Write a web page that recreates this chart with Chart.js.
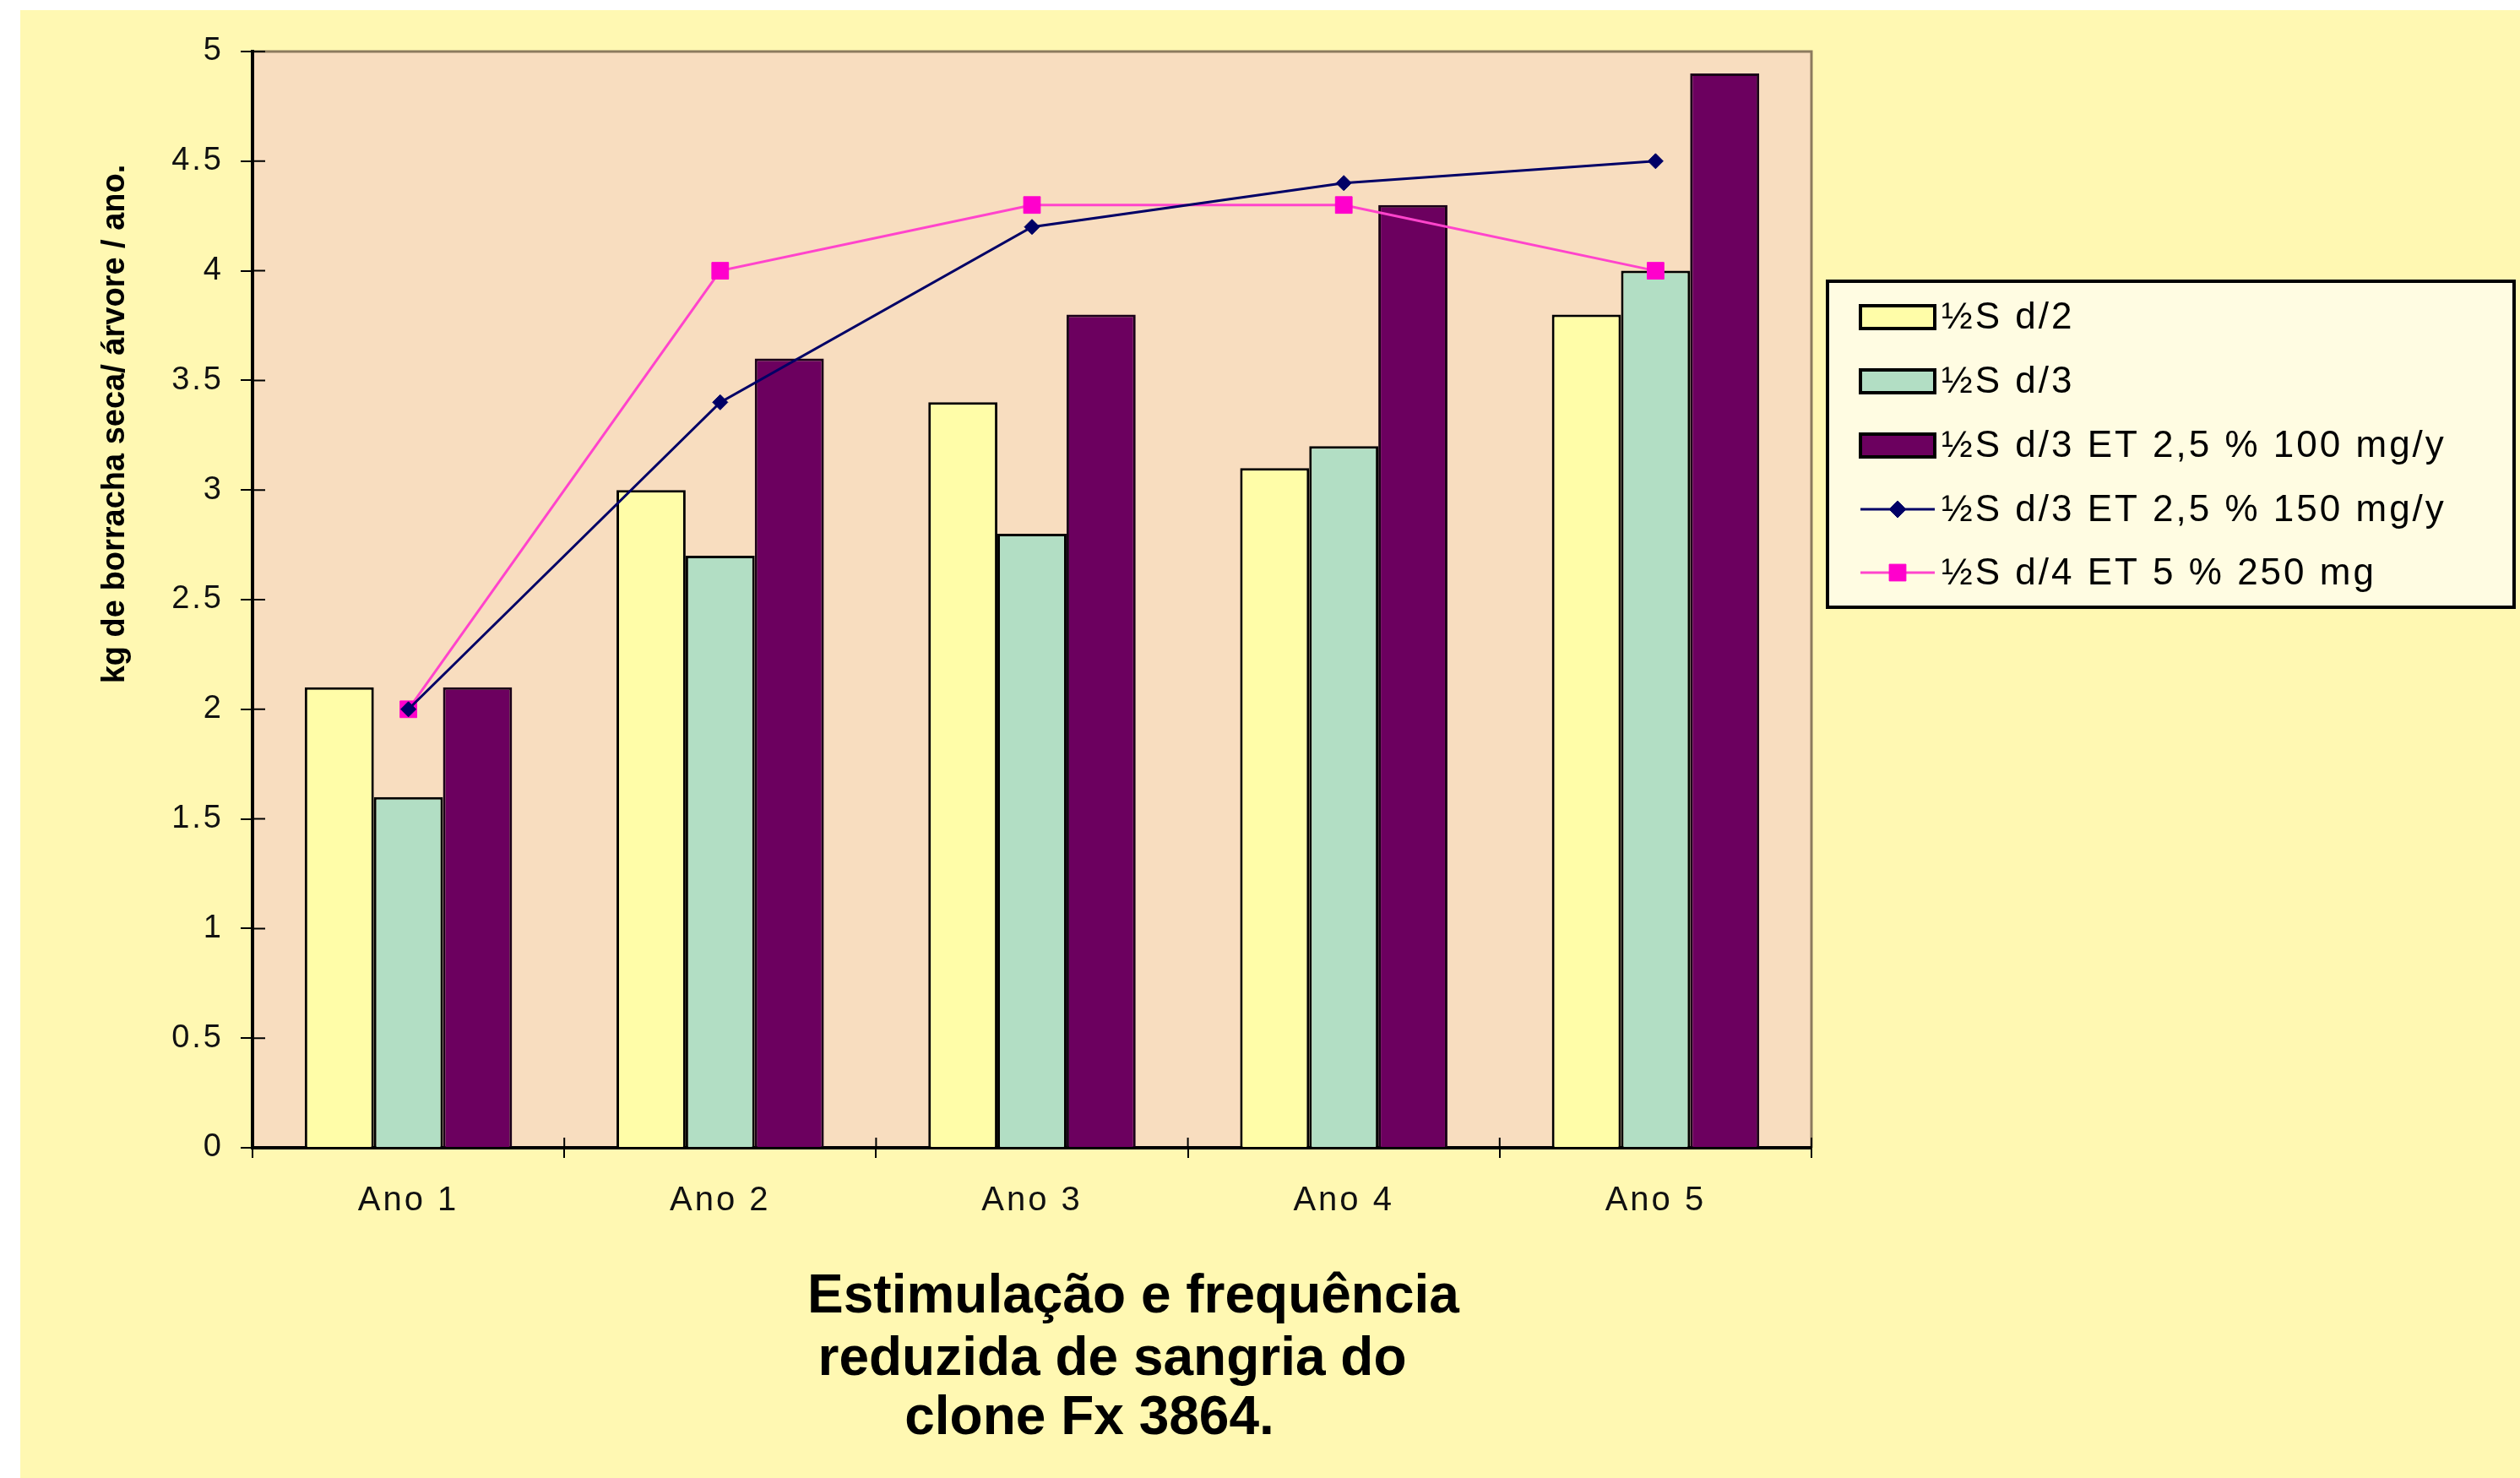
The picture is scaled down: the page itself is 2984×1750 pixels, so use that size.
<!DOCTYPE html>
<html>
<head>
<meta charset="utf-8">
<script src="https://cdn.jsdelivr.net/npm/chart.js@4.4.1/dist/chart.umd.min.js"></script>
<style>
  html, body { margin: 0; padding: 0; background: #fff; }
  canvas { display: block; }
</style>
</head>
<body>
<canvas id="rubberChart" width="2984" height="1750"></canvas>
<script>
// data
const years = ['Ano 1', 'Ano 2', 'Ano 3', 'Ano 4', 'Ano 5'];
const sD2 = [2.1, 3.0, 3.4, 3.1, 3.8];
const sD3 = [1.6, 2.7, 2.8, 3.2, 4.0];
const sD3Et100 = [2.1, 3.6, 3.8, 4.3, 4.9];
const sD3Et150 = [2.0, 3.4, 4.2, 4.4, 4.5];
const sD4Et250 = [2.0, 4.0, 4.3, 4.3, 4.0];
const seriesNames = [
    '½S d/2',
    '½S d/3',
    '½S d/3 ET 2,5 % 100 mg/y',
    '½S d/3 ET 2,5 % 150 mg/y',
    '½S d/4 ET 5 % 250 mg'
];
const yTickLabels = ['0', '0.5', '1', '1.5', '2', '2.5', '3', '3.5', '4', '4.5', '5'];
const yAxisTitle = 'kg de borracha seca/ árvore / ano.';
const titleLines = ['Estimulação e frequência', 'reduzida de sangria do', 'clone Fx 3864.'];

const W = 2984, H = 1750;
const FONT = '"Liberation Sans", Arial, sans-serif';

const backgroundPlugin = {
    id: 'backgrounds',
    beforeDraw(chart) {
        const ctx = chart.ctx, a = chart.chartArea;
        ctx.save();
        ctx.fillStyle = '#ffffff';
        ctx.fillRect(0, 0, W, H);
        ctx.fillStyle = '#FFF8B2';
        ctx.fillRect(24, 12, W - 24, H - 12);
        ctx.fillStyle = '#F8DDBF';
        ctx.fillRect(a.left, a.top, a.right - a.left, a.bottom - a.top);
        ctx.strokeStyle = '#8C7B5E';
        ctx.lineWidth = 3;
        ctx.beginPath();
        ctx.moveTo(a.left, a.top);
        ctx.lineTo(a.right, a.top);
        ctx.lineTo(a.right, a.bottom);
        ctx.stroke();
        ctx.restore();
        ctx.letterSpacing = '3px';
    },
    beforeDatasetsDraw(chart) {
        // the tick marks cross the axes, draw the inner half
        const ctx = chart.ctx, a = chart.chartArea;
        const x = chart.scales.x, y = chart.scales.y;
        ctx.save();
        ctx.strokeStyle = '#000';
        ctx.lineWidth = 2;
        ctx.beginPath();
        y.ticks.forEach((t, i) => {
            const py = y.getPixelForTick(i);
            ctx.moveTo(a.left, py);
            ctx.lineTo(a.left + 15, py);
        });
        for (let i = 0; i <= years.length; i++) {
            const px = x.getPixelForValue(i - 0.5);
            ctx.moveTo(px, a.bottom);
            ctx.lineTo(px, a.bottom - 12);
        }
        ctx.stroke();
        ctx.restore();
    },
    afterDraw(chart) {
        const ctx = chart.ctx;
        ctx.save();
        ctx.letterSpacing = '0px';
        ctx.fillStyle = '#000';

        // y axis title
        ctx.save();
        ctx.translate(137, 502);
        ctx.rotate(-Math.PI / 2);
        ctx.font = 'bold 38px ' + FONT;
        ctx.textAlign = 'center';
        ctx.textBaseline = 'middle';
        ctx.fillText(yAxisTitle, 0, 0);
        ctx.restore();

        // title under the chart
        ctx.font = 'bold 64px ' + FONT;
        ctx.textAlign = 'center';
        ctx.textBaseline = 'middle';
        const tx = [1342, 1317, 1290], ty = [1536, 1610, 1680];
        titleLines.forEach((t, i) => ctx.fillText(t, tx[i], ty[i]));

        // legend box
        const lx = 2164, ly = 333, lw = 813, lh = 386;
        ctx.fillStyle = '#FFFCE2';
        ctx.fillRect(lx, ly, lw, lh);
        ctx.strokeStyle = '#000';
        ctx.lineWidth = 4;
        ctx.strokeRect(lx, ly, lw, lh);

        const rows = [375, 451, 527, 603, 678];
        ctx.font = '44px ' + FONT;
        ctx.letterSpacing = '3px';
        ctx.textAlign = 'left';
        chart.data.datasets.forEach((ds, i) => {
            const ry = rows[i];
            if (ds.type === 'line') {
                ctx.strokeStyle = ds.borderColor;
                ctx.lineWidth = ds.borderWidth;
                ctx.beginPath();
                ctx.moveTo(2203, ry);
                ctx.lineTo(2291, ry);
                ctx.stroke();
                ctx.fillStyle = ds.pointBackgroundColor;
                ctx.strokeStyle = ds.pointBorderColor;
                ctx.lineWidth = 1;
                Chart.helpers.drawPoint(ctx, {
                    pointStyle: ds.pointStyle,
                    radius: ds.pointStyle === 'rect' ? 14 : 10,
                    rotation: 0,
                    borderWidth: 1
                }, 2247, ry);
            } else {
                ctx.fillStyle = ds.backgroundColor;
                ctx.fillRect(2203, ry - 13, 88, 27);
                ctx.strokeStyle = '#000';
                ctx.lineWidth = 4;
                ctx.strokeRect(2203, ry - 13, 88, 27);
            }
            ctx.fillStyle = '#000';
            ctx.fillText(ds.label, 2299, ry + 2);
        });
        ctx.restore();
    }
};

const ctx = document.getElementById('rubberChart').getContext('2d');
new Chart(ctx, {
    type: 'bar',
    data: {
        labels: years,
        datasets: [
            {
                label: seriesNames[0],
                data: sD2,
                backgroundColor: '#FFFDA8',
                borderColor: '#000',
                borderWidth: 3,
                order: 1
            },
            {
                label: seriesNames[1],
                data: sD3,
                backgroundColor: '#B2DEC4',
                borderColor: '#000',
                borderWidth: 3,
                order: 1
            },
            {
                label: seriesNames[2],
                data: sD3Et100,
                backgroundColor: '#6C005F',
                borderColor: '#1a0018',
                borderWidth: 3,
                order: 1
            },
            {
                type: 'line',
                label: seriesNames[3],
                data: sD3Et150,
                borderColor: '#000066',
                borderWidth: 3,
                pointStyle: 'rectRot',
                pointRadius: 9,
                pointBackgroundColor: '#000066',
                pointBorderColor: '#000066',
                pointBorderWidth: 1,
                tension: 0,
                fill: false,
                order: 0
            },
            {
                type: 'line',
                label: seriesNames[4],
                data: sD4Et250,
                borderColor: '#FF44CC',
                borderWidth: 3,
                pointStyle: 'rect',
                pointRadius: 14,
                pointBackgroundColor: '#FF00CC',
                pointBorderColor: '#FF00CC',
                pointBorderWidth: 1,
                tension: 0,
                fill: false,
                order: 0
            }
        ]
    },
    options: {
        responsive: false,
        devicePixelRatio: 1,
        animation: false,
        layout: {
            padding: { left: 0, top: 61, right: 839, bottom: 0 }
        },
        datasets: {
            bar: { categoryPercentage: 0.665, barPercentage: 1.0 }
        },
        plugins: {
            legend: { display: false },
            title: { display: false },
            tooltip: { enabled: false }
        },
        scales: {
            x: {
                afterFit(scale) { scale.height = 391; },
                border: { display: true, color: '#000', width: 4 },
                grid: {
                    offset: true,
                    drawOnChartArea: false,
                    drawTicks: true,
                    tickLength: 12,
                    color: '#000',
                    lineWidth: 2
                },
                ticks: {
                    color: '#111',
                    font: { family: FONT, size: 40 },
                    padding: 27,
                    maxRotation: 0
                }
            },
            y: {
                min: 0,
                max: 5,
                afterFit(scale) { scale.width = 299; },
                border: { display: true, color: '#000', width: 4 },
                grid: {
                    drawOnChartArea: false,
                    drawTicks: true,
                    tickLength: 14,
                    color: '#000',
                    lineWidth: 2
                },
                ticks: {
                    stepSize: 0.5,
                    color: '#111',
                    font: { family: FONT, size: 38 },
                    padding: 20,
                    callback: (v, i) => yTickLabels[i]
                }
            }
        }
    },
    plugins: [backgroundPlugin]
});
</script>
</body>
</html>
